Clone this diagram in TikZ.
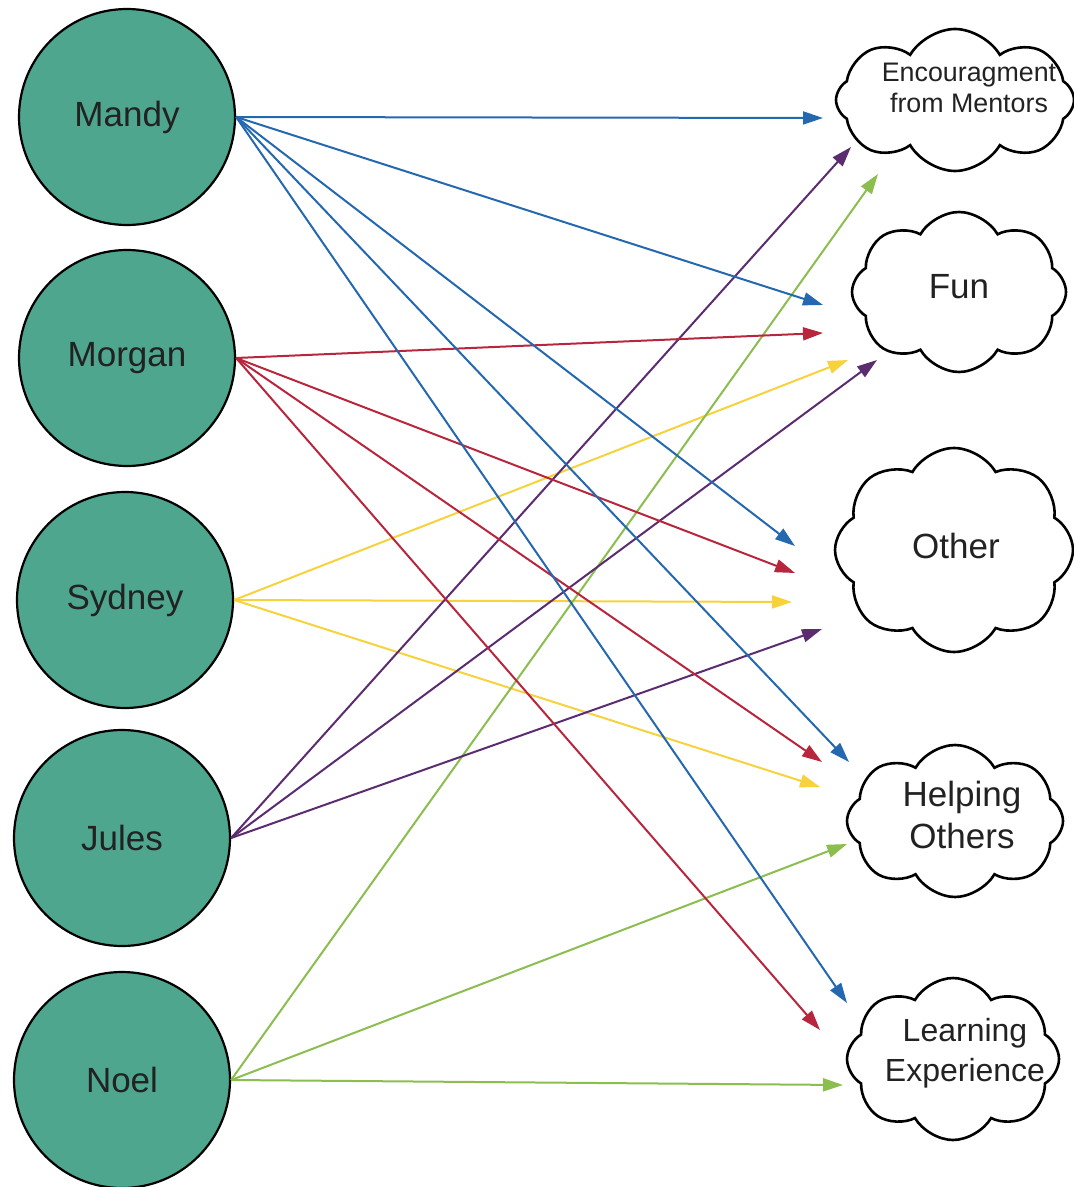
\documentclass[tikz,border=0pt]{standalone}
\usepackage{fontspec}
\setmainfont{Liberation Sans}
\usetikzlibrary{shapes.symbols,arrows.meta}
\definecolor{circfill}{RGB}{78,166,142}
\definecolor{cblue}{RGB}{36,104,176}
\definecolor{cred}{RGB}{184,38,61}
\definecolor{cyellow}{RGB}{246,210,60}
\definecolor{cpurple}{RGB}{91,44,111}
\definecolor{cgreen}{RGB}{139,189,79}
\definecolor{txt}{RGB}{34,34,34}
\tikzset{
  person/.style={circle, draw=black, line width=1.1pt, fill=circfill, minimum size=108pt, inner sep=0pt, text=txt, font=\fontsize{17.5}{21}\selectfont},
  thought/.style={cloud, draw=black, line width=1.3pt, fill=white, cloud puffs=8, cloud puff arc=120, cloud ignores aspect, inner sep=0pt},
  ctext/.style={align=center, text=txt, inner sep=0pt},
  link/.style={line width=1pt, -{Triangle[length=10pt,width=6.5pt]}},
}
\begin{document}
\begin{tikzpicture}[x=0.5pt,y=-0.5pt]
\useasboundingbox (0,0) rectangle (1073,1187);
% people
\node[person] (mandy) at (127,117) {Mandy};
\node[person] (morgan) at (127,358) {Morgan};
\node[person] (sydney) at (125,600) {Sydney};
\node[person] (jules) at (122,838) {Jules};
\node[person] (noel) at (122,1080) {Noel};
% clouds
\node[thought, minimum width=119pt, minimum height=71pt] (enc) at (955,100) {};
\node[ctext, font=\fontsize{13.4}{15.5}\selectfont] (enct) at (969,88) {Encouragment\\from Mentors};
\node[thought, minimum width=107pt, minimum height=80pt] (fun) at (959,292) {};
\node[ctext, font=\fontsize{17.5}{21}\selectfont] (funt) at (959,287) {Fun};
\node[thought, minimum width=119pt, minimum height=102pt] (oth) at (954,550) {};
\node[ctext, font=\fontsize{17.5}{21}\selectfont] (otht) at (956,546) {Other};
\node[thought, minimum width=108pt, minimum height=76pt] (help) at (955,821) {};
\node[ctext, font=\fontsize{17.5}{21}\selectfont] (helpt) at (962,815) {Helping\\Others};
\node[thought, minimum width=106pt, minimum height=81pt] (learn) at (953,1059) {};
\node[ctext, font=\fontsize{16}{20}\selectfont] (learnt) at (965,1053) {Learning\\Experience};
% arrow tips
\coordinate (me1) at (823,118);
\coordinate (mf1) at (823,305);
\coordinate (mo1) at (795,546);
\coordinate (mh1) at (849,762);
\coordinate (ml1) at (847,1003);
\coordinate (rf) at (823,333);
\coordinate (ro) at (795,573);
\coordinate (rh) at (822,762);
\coordinate (rl) at (820,1030);
\coordinate (yf) at (848,360);
\coordinate (yo) at (792,602);
\coordinate (yh) at (820,787);
\coordinate (je) at (851,147);
\coordinate (jf) at (877,360);
\coordinate (jo) at (822,629);
\coordinate (ne) at (878,174);
\coordinate (nh) at (847,844);
\coordinate (nl) at (843,1085);
% links
\foreach \t in {yf,yo,yh} \draw[link, cyellow] (sydney.east) -- (\t);
\foreach \t in {ne,nh,nl} \draw[link, cgreen] (noel.east) -- (\t);
\foreach \t in {je,jf,jo} \draw[link, cpurple] (jules.east) -- (\t);
\foreach \t in {rf,ro,rh,rl} \draw[link, cred] (morgan.east) -- (\t);
\foreach \t in {me1,mf1,mo1,mh1,ml1} \draw[link, cblue] (mandy.east) -- (\t);
\end{tikzpicture}
\end{document}
